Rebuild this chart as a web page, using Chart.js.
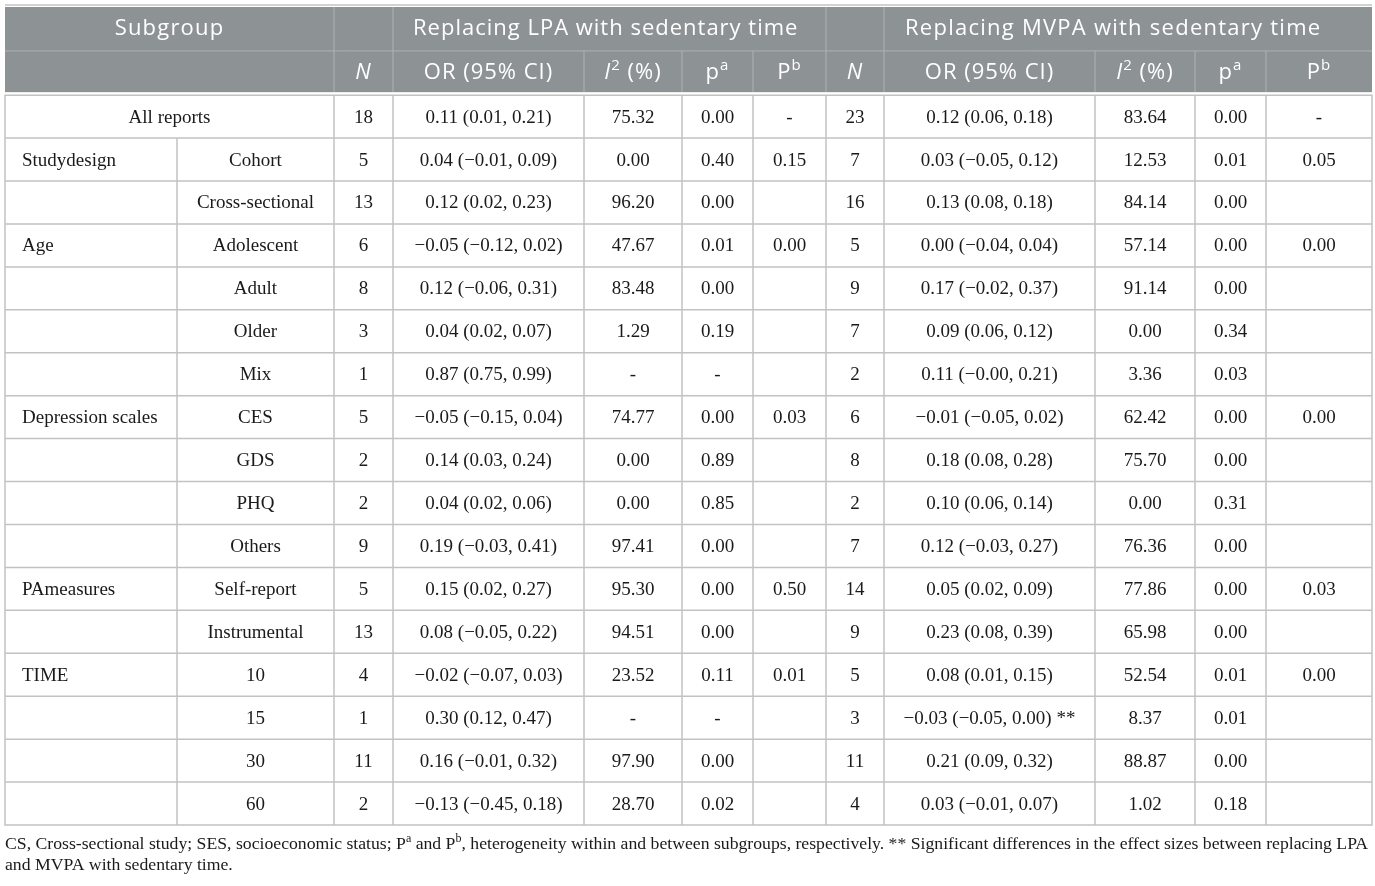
<!DOCTYPE html>
<html>
<head>
<meta charset="utf-8">
<script src="https://cdn.jsdelivr.net/npm/chart.js@4.4.0/dist/chart.umd.min.js"></script>
<style>
  html, body { margin: 0; padding: 0; background: #fff; }
  #wrap { width: 1375px; height: 886px; position: relative; }
</style>
</head>
<body>
<div id="wrap"><canvas id="subgroupTable"></canvas></div>
<script>
// Table content
const groupLabels = ['', 'Studydesign', '', 'Age', '', '', '', 'Depression scales', '', '', '', 'PAmeasures', '', 'TIME', '', '', ''];
const subgroupLabels = ['All reports', 'Cohort', 'Cross-sectional', 'Adolescent', 'Adult', 'Older', 'Mix', 'CES', 'GDS', 'PHQ', 'Others', 'Self-report', 'Instrumental', '10', '15', '30', '60'];

// Replacing LPA with sedentary time
const lpaN = [18, 5, 13, 6, 8, 3, 1, 5, 2, 2, 9, 5, 13, 4, 1, 11, 2];
const lpaOR = ['0.11 (0.01, 0.21)', '0.04 (\u22120.01, 0.09)', '0.12 (0.02, 0.23)', '\u22120.05 (\u22120.12, 0.02)', '0.12 (\u22120.06, 0.31)', '0.04 (0.02, 0.07)', '0.87 (0.75, 0.99)', '\u22120.05 (\u22120.15, 0.04)', '0.14 (0.03, 0.24)', '0.04 (0.02, 0.06)', '0.19 (\u22120.03, 0.41)', '0.15 (0.02, 0.27)', '0.08 (\u22120.05, 0.22)', '\u22120.02 (\u22120.07, 0.03)', '0.30 (0.12, 0.47)', '0.16 (\u22120.01, 0.32)', '\u22120.13 (\u22120.45, 0.18)'];
const lpaI2 = ['75.32', '0.00', '96.20', '47.67', '83.48', '1.29', '-', '74.77', '0.00', '0.00', '97.41', '95.30', '94.51', '23.52', '-', '97.90', '28.70'];
const lpaPa = ['0.00', '0.40', '0.00', '0.01', '0.00', '0.19', '-', '0.00', '0.89', '0.85', '0.00', '0.00', '0.00', '0.11', '-', '0.00', '0.02'];
const lpaPb = ['-', '0.15', '', '0.00', '', '', '', '0.03', '', '', '', '0.50', '', '0.01', '', '', ''];

// Replacing MVPA with sedentary time
const mvpaN = [23, 7, 16, 5, 9, 7, 2, 6, 8, 2, 7, 14, 9, 5, 3, 11, 4];
const mvpaOR = ['0.12 (0.06, 0.18)', '0.03 (\u22120.05, 0.12)', '0.13 (0.08, 0.18)', '0.00 (\u22120.04, 0.04)', '0.17 (\u22120.02, 0.37)', '0.09 (0.06, 0.12)', '0.11 (\u22120.00, 0.21)', '\u22120.01 (\u22120.05, 0.02)', '0.18 (0.08, 0.28)', '0.10 (0.06, 0.14)', '0.12 (\u22120.03, 0.27)', '0.05 (0.02, 0.09)', '0.23 (0.08, 0.39)', '0.08 (0.01, 0.15)', '\u22120.03 (\u22120.05, 0.00) **', '0.21 (0.09, 0.32)', '0.03 (\u22120.01, 0.07)'];
const mvpaI2 = ['83.64', '12.53', '84.14', '57.14', '91.14', '0.00', '3.36', '62.42', '75.70', '0.00', '76.36', '77.86', '65.98', '52.54', '8.37', '88.87', '1.02'];
const mvpaPa = ['0.00', '0.01', '0.00', '0.00', '0.00', '0.34', '0.03', '0.00', '0.00', '0.31', '0.00', '0.00', '0.00', '0.01', '0.01', '0.00', '0.18'];
const mvpaPb = ['-', '0.05', '', '0.00', '', '', '', '0.00', '', '', '', '0.03', '', '0.00', '', '', ''];

const sectionTitles = ['Replacing LPA with sedentary time', 'Replacing MVPA with sedentary time'];
const footnoteLines = [
    [['CS, Cross-sectional study; SES, socioeconomic status; P'], ['a', 'sup'], [' and P'], ['b', 'sup'], [', heterogeneity within and between subgroups, respectively. ** Significant differences in the effect sizes between replacing LPA']],
    [['and MVPA with sedentary time.']]
];

// Layout (x in table units, y in row units)
const colEdges = [0, 172, 329, 388, 579, 677, 748, 821, 879, 1090, 1190, 1261, 1367];
const headTop = -2.1, headMid = -1.03, headBottom = -0.07;

const HEAD_BG = '#8d9295';
const HEAD_LINE = '#aeb2b5';
const GRID = '#c2c2c2';
const SANS = '"Open Sans", sans-serif';
const SERIF = '"Liberation Serif", serif';

const columns = [lpaN, lpaOR, lpaI2, lpaPa, lpaPb, mvpaN, mvpaOR, mvpaI2, mvpaPa, mvpaPb];

function drawRuns(ctx, parts, x, y, align, size, family, spacing) {
    // parts: [text, style] with style '', 'i' or 'sup'
    const fontFor = s => s === 'sup' ? `${Math.round(size * 0.7)}px ${family}` : (s === 'i' ? `italic ${size}px ${family}` : `${size}px ${family}`);
    ctx.letterSpacing = (spacing || 0) + 'px';
    let total = 0;
    parts.forEach(p => { ctx.font = fontFor(p[1]); total += ctx.measureText(p[0]).width; });
    let cx = align === 'center' ? x - total / 2 : x;
    ctx.textAlign = 'left';
    parts.forEach(p => {
        ctx.font = fontFor(p[1]);
        ctx.fillText(p[0], cx, p[1] === 'sup' ? y - size * 0.3 : y);
        cx += ctx.measureText(p[0]).width;
    });
    ctx.letterSpacing = '0px';
}

const tablePlugin = {
    id: 'tablePlugin',
    beforeDraw(chart) {
        const ctx = chart.ctx;
        ctx.save();
        ctx.fillStyle = '#fff';
        ctx.fillRect(0, 0, chart.width, chart.height);
        ctx.restore();
    },
    afterDraw(chart) {
        const ctx = chart.ctx;
        const xs = chart.scales.x, ys = chart.scales.y;
        const X = v => xs.getPixelForValue(v);
        const Y = v => ys.getPixelForValue(v);
        const left = X(colEdges[0]), right = X(colEdges[colEdges.length - 1]);
        const nRows = subgroupLabels.length;
        ctx.save();
        ctx.textBaseline = 'middle';

        // header background
        ctx.fillStyle = HEAD_BG;
        ctx.fillRect(left, Y(headTop) + 2, right - left, Y(headBottom) - Y(headTop) - 2);
        ctx.strokeStyle = GRID;
        ctx.lineWidth = 1.5;
        ctx.beginPath();
        ctx.moveTo(left, Y(headTop)); ctx.lineTo(right, Y(headTop));
        ctx.stroke();

        // header lines
        ctx.strokeStyle = HEAD_LINE;
        ctx.lineWidth = 1;
        ctx.beginPath();
        ctx.moveTo(left, Y(headMid)); ctx.lineTo(right, Y(headMid));
        [2, 3, 7, 8].forEach(i => { ctx.moveTo(X(colEdges[i]), Y(headTop) + 2); ctx.lineTo(X(colEdges[i]), Y(headBottom)); });
        [4, 5, 6, 9, 10, 11].forEach(i => { ctx.moveTo(X(colEdges[i]), Y(headMid)); ctx.lineTo(X(colEdges[i]), Y(headBottom)); });
        ctx.stroke();

        // header text
        ctx.fillStyle = '#fff';
        const r1 = (Y(headTop) + Y(headMid)) / 2 + 1;
        const r2 = (Y(headMid) + Y(headBottom)) / 2 + 1;
        drawRuns(ctx, [['Subgroup', '']], (X(colEdges[0]) + X(colEdges[2])) / 2, r1, 'center', 22, SANS, 1.2);
        drawRuns(ctx, [[sectionTitles[0], '']], X(colEdges[3]) + 20, r1, 'left', 22, SANS, 1);
        drawRuns(ctx, [[sectionTitles[1], '']], X(colEdges[8]) + 21, r1, 'left', 22, SANS, 1.25);
        const subHeads = [
            [['N', 'i']], [['OR (95% CI)', '']], [['I', 'i'], ['2', 'sup'], [' (%)', '']], [['p', ''], ['a', 'sup']], [['P', ''], ['b', 'sup']]
        ];
        for (let c = 0; c < 10; c++) {
            const cx = (X(colEdges[c + 2]) + X(colEdges[c + 3])) / 2;
            drawRuns(ctx, subHeads[c % 5], cx, r2, 'center', 22, SANS, 1);
        }

        // body grid
        ctx.strokeStyle = GRID;
        ctx.lineWidth = 1.5;
        ctx.beginPath();
        for (let r = 0; r <= nRows; r++) {
            ctx.moveTo(left - 0.75, Y(r)); ctx.lineTo(right + 0.75, Y(r));
        }
        colEdges.forEach((e, i) => {
            const top = (i === 1) ? Y(1) : Y(0);
            ctx.moveTo(X(e), top); ctx.lineTo(X(e), Y(nRows));
        });
        ctx.stroke();

        // body text
        ctx.fillStyle = '#1a1a1a';
        for (let r = 0; r < nRows; r++) {
            const cy = (Y(r) + Y(r + 1)) / 2 + 1;
            if (r === 0) {
                drawRuns(ctx, [[subgroupLabels[r], '']], (X(colEdges[0]) + X(colEdges[2])) / 2, cy, 'center', 19, SERIF);
            } else {
                if (groupLabels[r]) drawRuns(ctx, [[groupLabels[r], '']], X(colEdges[0]) + 17, cy, 'left', 19, SERIF);
                drawRuns(ctx, [[subgroupLabels[r], '']], (X(colEdges[1]) + X(colEdges[2])) / 2, cy, 'center', 19, SERIF);
            }
            columns.forEach((col, c) => {
                const txt = String(col[r]);
                if (!txt) return;
                const cx = (X(colEdges[c + 2]) + X(colEdges[c + 3])) / 2;
                drawRuns(ctx, [[txt, '']], cx, cy, 'center', 19, SERIF);
            });
        }

        // footnote
        footnoteLines.forEach((line, i) => {
            drawRuns(ctx, line.map(p => [p[0], p[1] || '']), left, Y(nRows) + 19 + i * 21, 'left', 17.7, SERIF);
        });
        ctx.restore();
    }
};

new Chart(document.getElementById('subgroupTable').getContext('2d'), {
    type: 'scatter',
    data: { datasets: [{ data: [] }] },
    options: {
        responsive: true,
        maintainAspectRatio: false,
        animation: false,
        events: [],
        layout: { padding: { left: 5, right: 3, top: 5, bottom: 61 } },
        plugins: { legend: { display: false }, tooltip: { enabled: false } },
        scales: {
            x: { type: 'linear', min: colEdges[0], max: colEdges[colEdges.length - 1], display: false },
            y: { type: 'linear', min: headTop, max: subgroupLabels.length, reverse: true, display: false }
        }
    },
    plugins: [tablePlugin]
});
</script>
</body>
</html>
